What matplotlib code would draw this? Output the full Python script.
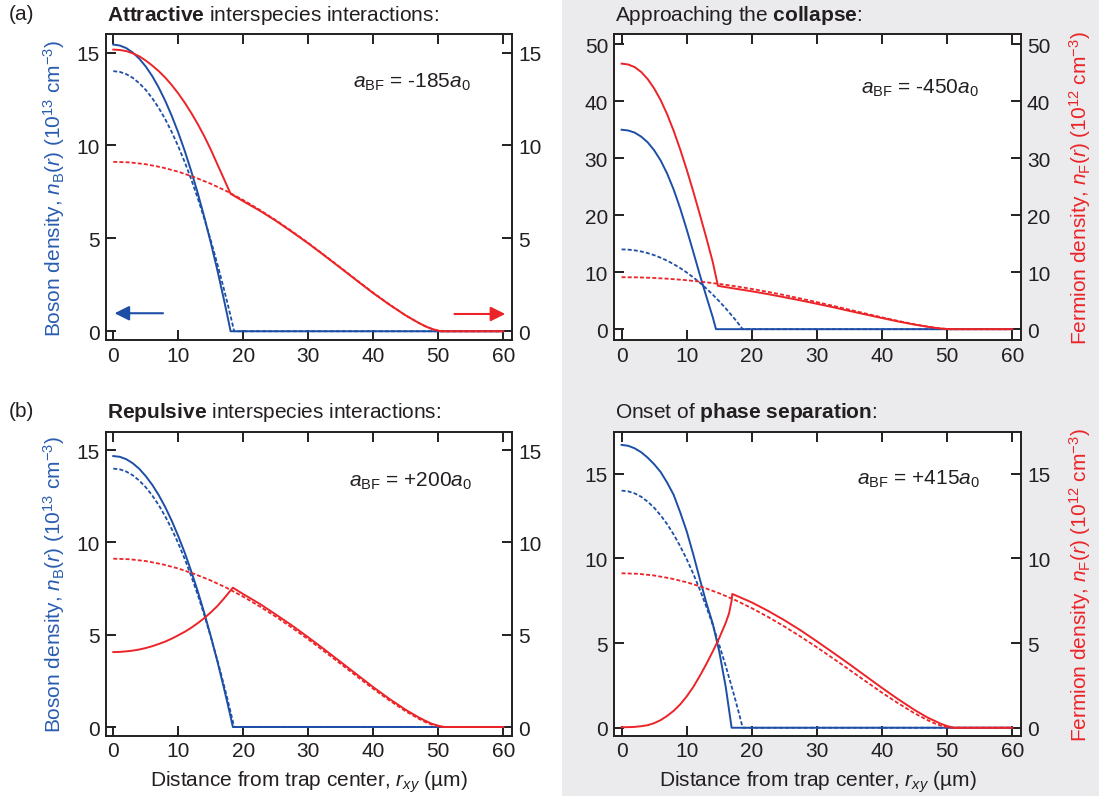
import matplotlib
matplotlib.use('Agg')
import matplotlib.pyplot as plt
from matplotlib.patches import Rectangle

"""
Boson / fermion density profiles in the trap for four interspecies
scattering lengths (solid: interacting, dashed: non-interacting)
"""

plt.rcParams['font.family'] = ['Liberation Sans', 'DejaVu Sans']
plt.rcParams['mathtext.fontset'] = 'custom'
plt.rcParams['mathtext.rm'] = 'Liberation Sans'
plt.rcParams['mathtext.it'] = 'Liberation Sans:italic'
plt.rcParams['mathtext.bf'] = 'Liberation Sans:bold'

BLUE = '#1d4fa6'
RED = '#ec2428'
INK = '#231f20'
GRAY = '#ebebed'

# non-interacting reference profiles (dashed, same in every panel)
r_bose0 = [0, 1, 2, 3, 4, 5, 6, 7, 8, 9, 10, 11, 12, 13, 14, 15, 16, 17, 17.5, 18, 18.6, 60]
n_bose0 = [14.0, 13.96, 13.84, 13.64, 13.35, 12.99, 12.54, 12.02, 11.41, 10.72, 9.95, 9.10, 8.17,
           7.16, 6.07, 4.89, 3.64, 2.30, 1.61, 0.89, 0, 0]
r_fermi0 = [0, 2.5, 5, 7.5, 10, 12.5, 15, 17.5, 20, 22.5, 25, 27.5, 30, 32.5, 35,
            37.5, 40, 42.5, 45, 47, 48, 49, 50, 50.5, 60]
n_fermi0 = [9.12, 9.09, 8.99, 8.82, 8.59, 8.29, 7.94, 7.53, 7.06, 6.54, 5.98, 5.38, 4.75, 4.09, 3.42,
            2.74, 2.07, 1.44, 0.85, 0.45, 0.27, 0.13, 0.03, 0, 0]

# (a) attractive, a_BF = -185 a0
r_bose_a = [0, 1, 2, 3, 4, 5, 6, 7, 8, 9, 10, 11, 12, 13, 14, 15, 16, 17, 17.5, 18.05, 60]
n_bose_a = [15.43, 15.38, 15.24, 15.0, 14.67, 14.25, 13.73, 13.11, 12.40, 11.59, 10.69, 9.70, 8.61,
            7.43, 6.15, 4.77, 3.31, 1.74, 0.93, 0, 0]
r_fermi_a = [0, 1, 2, 3, 4, 5, 6, 7, 8, 9, 10, 11, 12, 13, 14, 15, 16, 17, 18.05, 20, 22.5, 25,
             27.5, 30, 32.5, 35, 37.5, 40, 42.5, 45, 47, 48, 49, 50, 50.5, 60]
n_fermi_a = [15.16, 15.14, 15.08, 14.96, 14.8, 14.57, 14.3, 14.0, 13.65, 13.25, 12.8, 12.3, 11.75,
             11.15, 10.5, 9.78, 9.0, 8.22, 7.4, 7.0, 6.5, 5.95,
             5.35, 4.73, 4.07, 3.4, 2.72, 2.05, 1.43, 0.85, 0.45, 0.27, 0.13, 0.03, 0, 0]

# (a, right) approaching the collapse, a_BF = -450 a0
r_bose_b = [0, 1, 2, 3, 4, 5, 6, 7, 8, 9, 10, 11, 12, 13, 14, 14.5, 60]
n_bose_b = [35.0, 34.87, 34.5, 33.8, 32.8, 31.4, 29.6, 27.3, 24.5, 21.2, 17.5, 13.6, 9.6, 5.8, 2.1, 0, 0]
r_fermi_b = [0, 1, 2, 3, 4, 5, 6, 7, 8, 9, 10, 11, 12, 13, 14, 14.8, 17.5, 20, 22.5, 25, 27.5,
             30, 32.5, 35, 37.5, 40, 42.5, 45, 47, 48, 49, 50, 50.5, 60]
n_fermi_b = [46.6, 46.45, 46.0, 45.15, 43.9, 42.25, 40.2, 37.7, 34.8, 31.55, 28.0, 24.2, 20.2, 16.1,
             11.8, 7.6, 7.1, 6.65, 6.15, 5.6, 5.05,
             4.45, 3.85, 3.2, 2.57, 1.95, 1.35, 0.8, 0.42, 0.26, 0.12, 0.03, 0, 0]

# (b) repulsive, a_BF = +200 a0
r_bose_c = [0, 1, 2, 3, 4, 5, 6, 7, 8, 9, 10, 11, 12, 13, 14, 15, 16, 17, 17.5, 18, 18.4, 60]
n_bose_c = [14.68, 14.64, 14.51, 14.29, 13.99, 13.59, 13.12, 12.56, 11.91, 11.17, 10.34, 9.44, 8.43,
            7.35, 6.18, 4.92, 3.58, 2.15, 1.40, 0.63, 0, 0]
r_fermi_c = [0, 1, 2, 3, 4, 5, 6, 7, 8, 9, 10, 11, 12, 13, 14, 15, 16, 17, 17.7, 18.4, 20, 22.5,
             25, 27.5, 30, 32.5, 35, 37.5, 40, 42.5, 45, 47, 48, 49, 50, 51, 60]
n_fermi_c = [4.06, 4.07, 4.10, 4.14, 4.20, 4.28, 4.38, 4.5, 4.63, 4.79, 4.97, 5.16, 5.38, 5.63, 5.9,
             6.21, 6.55, 6.95, 7.25, 7.55, 7.2, 6.68,
             6.1, 5.5, 4.86, 4.2, 3.52, 2.84, 2.16, 1.52, 0.93, 0.52, 0.34, 0.18, 0.07, 0, 0]

# (b, right) onset of phase separation, a_BF = +415 a0
r_bose_d = [0, 1, 2, 3, 4, 5, 6, 7, 8, 9, 10, 11, 12, 13, 14, 15, 16, 16.9, 60]
n_bose_d = [16.7, 16.65, 16.5, 16.27, 15.95, 15.56, 15.1, 14.47, 13.75, 12.72, 11.6, 10.25, 8.8,
            7.4, 6.15, 4.5, 2.4, 0, 0]
r_fermi_d = [0, 1, 2, 3, 4, 5, 6, 7, 8, 9, 10, 11, 12, 13, 14, 15, 16, 16.5, 16.9, 17.0, 17.5,
             20, 22.5, 25, 27.5, 30, 32.5, 35, 37.5, 40, 42.5, 45, 47, 48, 49, 50, 51, 60]
n_fermi_d = [0.03, 0.035, 0.05, 0.09, 0.15, 0.27, 0.45, 0.7, 1.0, 1.38, 1.85, 2.4, 3.05, 3.75, 4.5,
             5.3, 6.2, 6.75, 7.5, 7.9, 7.82,
             7.4, 6.9, 6.35, 5.75, 5.1, 4.43, 3.75, 3.05, 2.35, 1.68, 1.05, 0.6, 0.42, 0.24, 0.1, 0, 0]

x_ticks = [0, 10, 20, 30, 40, 50, 60]

W, H = 1099, 804


def add_axes_px(fig, x0, y0, x1, y1):
    return fig.add_axes([x0 / W, 1 - y1 / H, (x1 - x0) / W, (y1 - y0) / H])


def drawPanel(ax, r_b, n_b, r_f, n_f, ylim, yticks, label, label_x, label_y):
    ax.set_facecolor('white')
    ax.plot(r_b, n_b, color=BLUE, lw=1.4, zorder=3)
    ax.plot(r_bose0, n_bose0, color=BLUE, lw=1.3, dashes=(2.2, 1.2), zorder=3)
    ax.plot(r_f, n_f, color=RED, lw=1.4, zorder=4)
    ax.plot(r_fermi0, n_fermi0, color=RED, lw=1.3, dashes=(2.2, 1.2), zorder=4)
    ax.set_xlim(-1.12, 61.3)
    ax.set_ylim(*ylim)
    ax.set_xticks(x_ticks)
    ax.set_yticks(yticks)
    ax.tick_params(axis='both', direction='in', length=7, width=1.4, top=True, right=True,
                   labelright=True, labelsize=15, colors=INK)
    ax.tick_params(axis='x', pad=4)
    ax.tick_params(axis='y', pad=4.5)
    for s in ax.spines.values():
        s.set_linewidth(1.4)
        s.set_color(INK)
    ax.text(label_x, label_y, label, fontsize=15, color=INK, ha='left', va='baseline')


fig = plt.figure(figsize=(W / 100, H / 100), dpi=100)
fig.add_artist(Rectangle((562 / W, 1 - 797 / H), 1 - 562 / W, 797 / H,
                         transform=fig.transFigure, facecolor=GRAY, edgecolor='none', zorder=-5))

ax_a = add_axes_px(fig, 106, 35, 511.7, 341)
ax_b = add_axes_px(fig, 614.3, 35, 1020.7, 341)
ax_c = add_axes_px(fig, 106, 432.7, 511.7, 736.7)
ax_d = add_axes_px(fig, 614.3, 432.7, 1020.7, 736.7)

drawPanel(ax_a, r_bose_a, n_bose_a, r_fermi_a, n_fermi_a, (-0.47, 16.0), [0, 5, 10, 15],
          r'$a_{\mathrm{BF}}$ = -185$a_0$', 36.9, 13.15)
drawPanel(ax_b, r_bose_b, n_bose_b, r_fermi_b, n_fermi_b, (-1.9, 51.8), [0, 10, 20, 30, 40, 50],
          r'$a_{\mathrm{BF}}$ = -450$a_0$', 36.8, 41.5)
drawPanel(ax_c, r_bose_c, n_bose_c, r_fermi_c, n_fermi_c, (-0.47, 16.0), [0, 5, 10, 15],
          r'$a_{\mathrm{BF}}$ = +200$a_0$', 36.2, 13.1)
drawPanel(ax_d, r_bose_d, n_bose_d, r_fermi_d, n_fermi_d, (-0.47, 17.48), [0, 5, 10, 15],
          r'$a_{\mathrm{BF}}$ = +415$a_0$', 36.2, 14.43)

# arrows telling which axis belongs to which species
ax_a.annotate('', xy=(0.2, 0.97), xytext=(7.65, 0.97),
              arrowprops=dict(arrowstyle='-|>', color=BLUE, lw=1.5, mutation_scale=22, shrinkA=0, shrinkB=0))
ax_a.annotate('', xy=(60.3, 0.93), xytext=(52.5, 0.93),
              arrowprops=dict(arrowstyle='-|>', color=RED, lw=1.5, mutation_scale=22, shrinkA=0, shrinkB=0))

boson_label = r'Boson density, $n_{\mathrm{B}}(r)$ (10$^{13}$ cm$^{-3}$)'
fermion_label = r'Fermion density, $n_{\mathrm{F}}(r)$ (10$^{12}$ cm$^{-3}$)'
x_label = r'Distance from trap center, $r_{xy}$ (µm)'

for ax in (ax_a, ax_c):
    ax.text(-0.128, 0.5, boson_label, transform=ax.transAxes, rotation=90,
            ha='center', va='center', fontsize=15, color='#2a5db0')
for ax in (ax_b, ax_d):
    ax.text(1.146, 0.5, fermion_label, transform=ax.transAxes, rotation=90,
            ha='center', va='center', fontsize=15, color=RED)
for ax in (ax_c, ax_d):
    ax.text(0.5, -0.151, x_label, transform=ax.transAxes,
            ha='center', va='center', fontsize=15, color=INK)

fig.text(9 / W, 1 - 14.5 / H, '(a)', fontsize=15, color=INK, ha='left', va='center')
fig.text(9 / W, 1 - 412 / H, '(b)', fontsize=15, color=INK, ha='left', va='center')
fig.text(107 / W, 1 - 15.5 / H, r'$\mathbf{Attractive}$ interspecies interactions:',
         fontsize=15, color=INK, ha='left', va='center')
fig.text(615 / W, 1 - 15.5 / H, r'Approaching the $\mathbf{collapse}$:',
         fontsize=15, color=INK, ha='left', va='center')
fig.text(107 / W, 1 - 412.5 / H, r'$\mathbf{Repulsive}$ interspecies interactions:',
         fontsize=15, color=INK, ha='left', va='center')
fig.text(615 / W, 1 - 412.5 / H, r'Onset of $\mathbf{phase\ separation}$:',
         fontsize=15, color=INK, ha='left', va='center')

fig.savefig('out.png', dpi=100)
